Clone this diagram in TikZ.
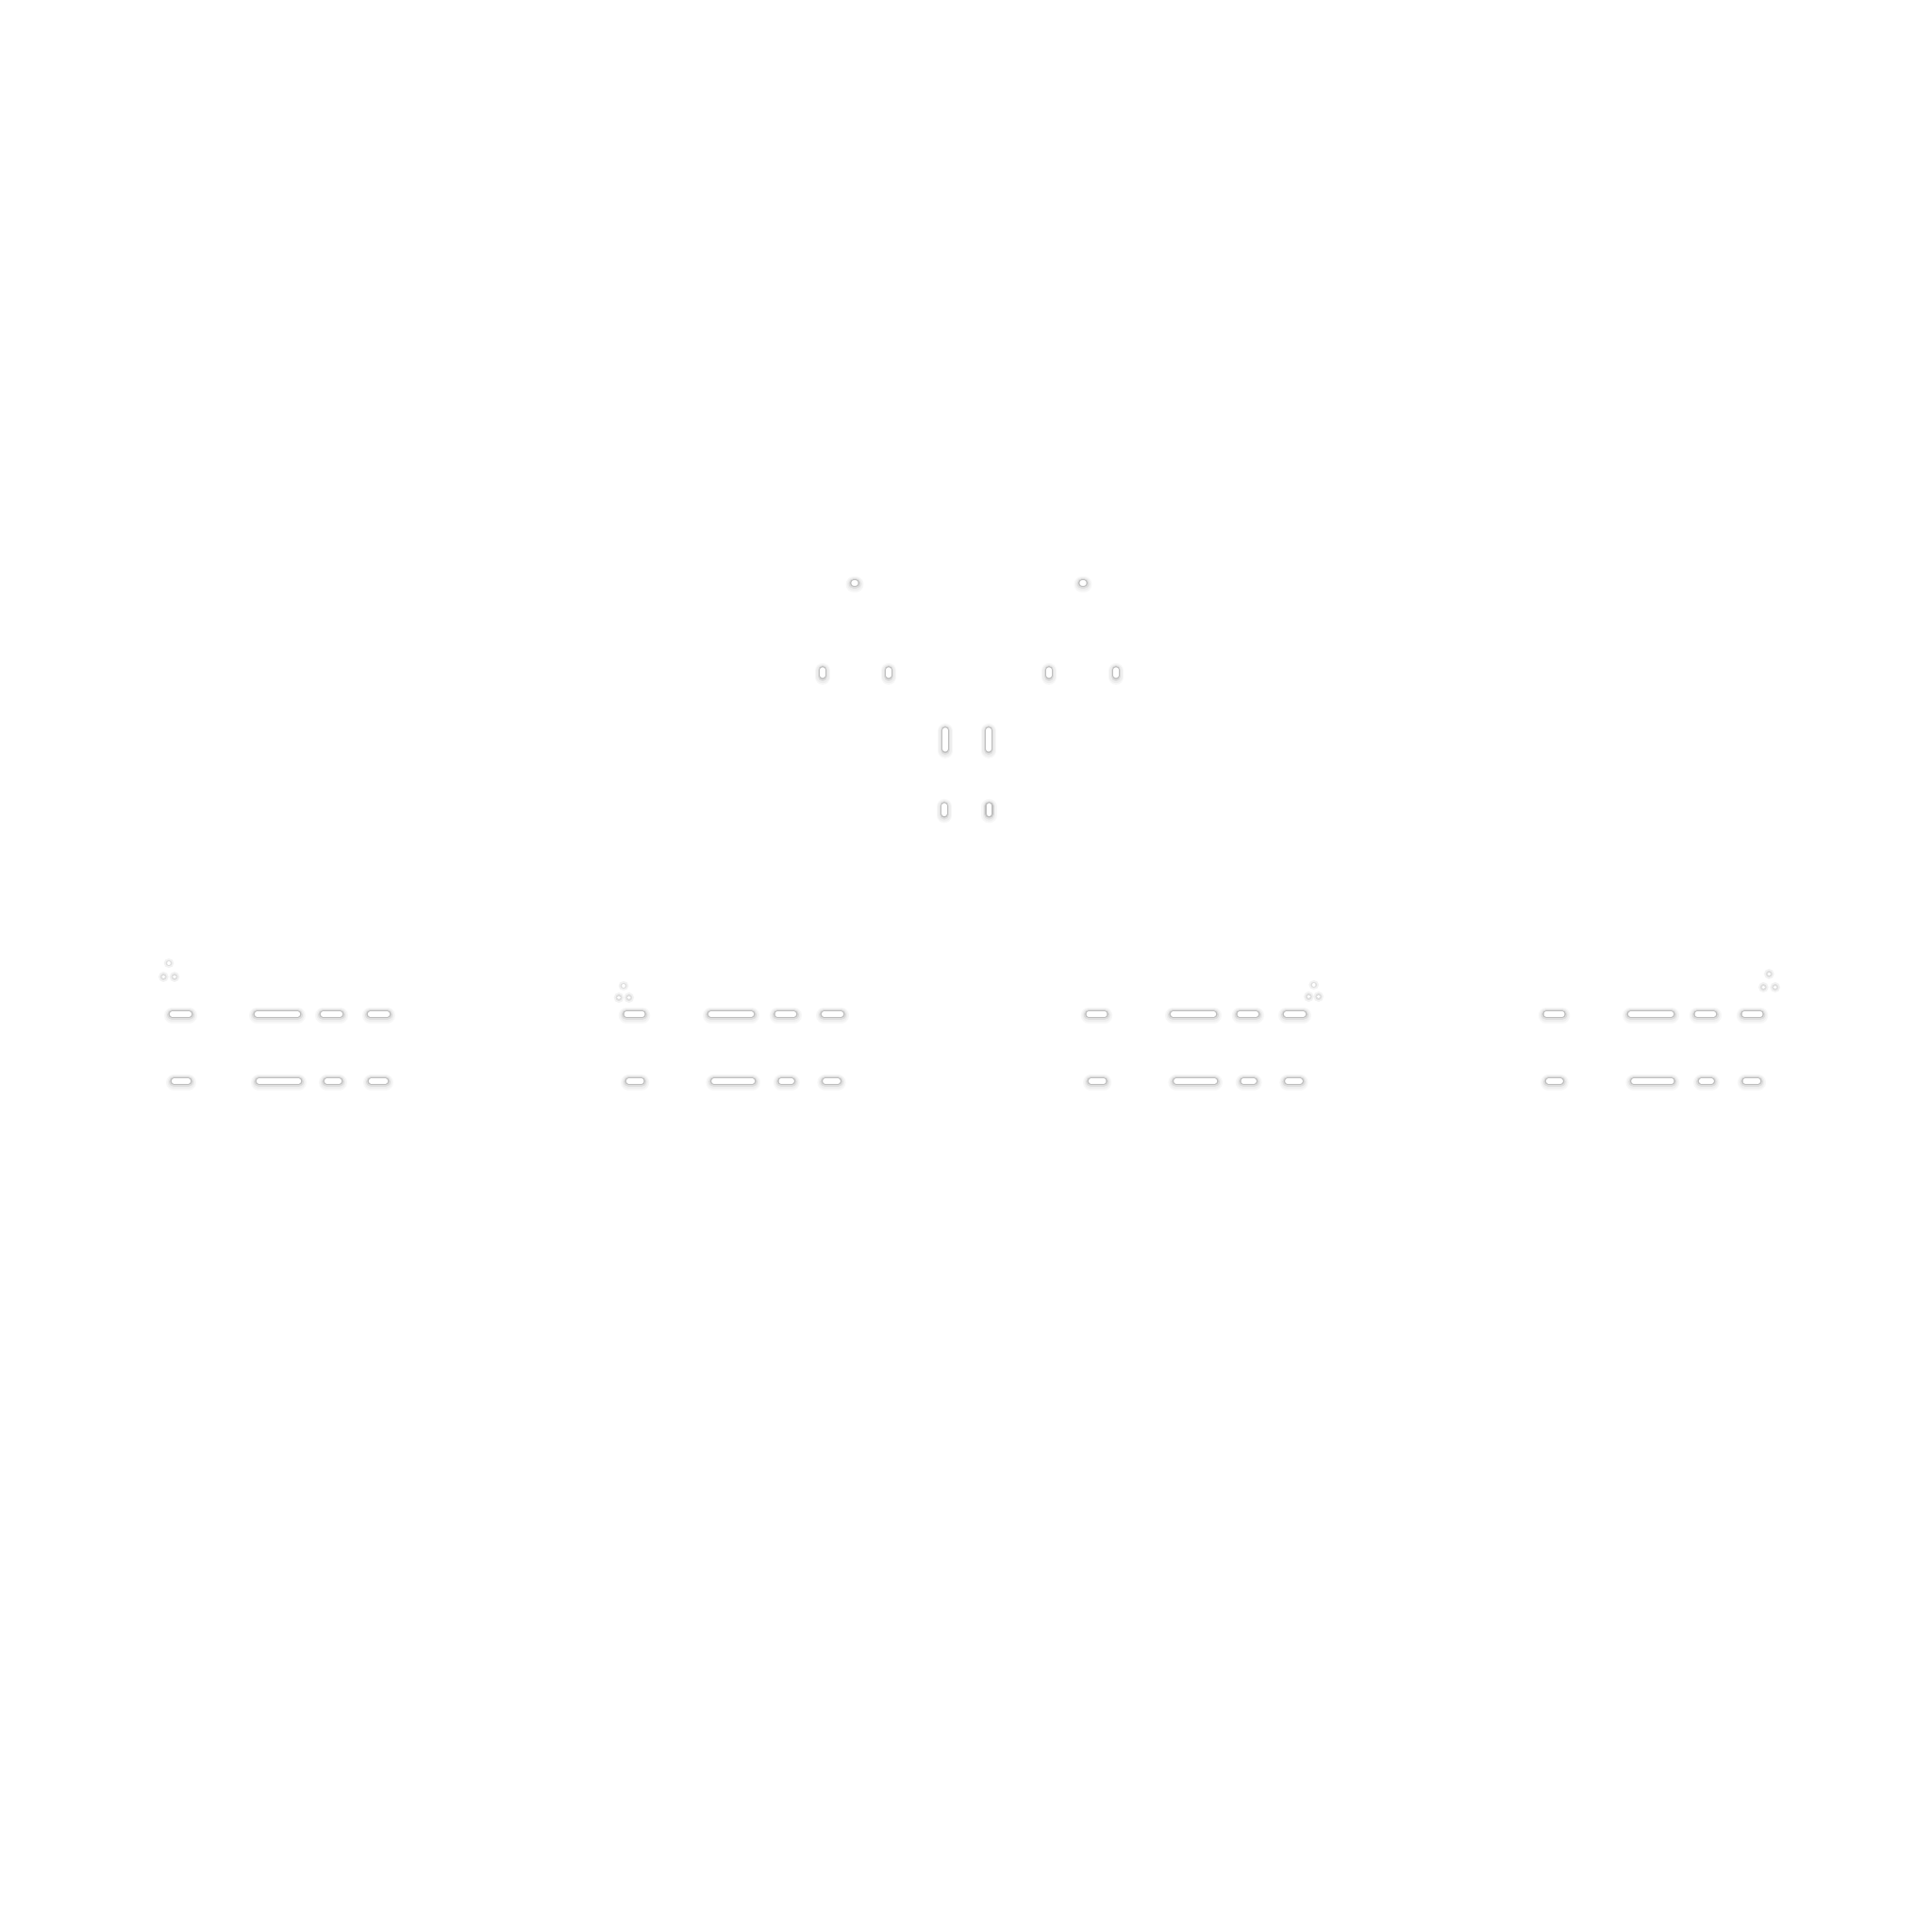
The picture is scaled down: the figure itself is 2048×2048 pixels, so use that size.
\documentclass[tikz,border=0pt]{standalone}
\usepackage{tikz}
\tikzset{
  glow haze/.style={draw=gray!6, line width=4.8pt, line cap=round, yshift=-0.4pt},
  glow outer/.style={draw=gray!13, line width=3.9pt, line cap=round, yshift=-0.35pt},
  glow mid/.style={draw=gray!27, line width=3.1pt, line cap=round, yshift=-0.2pt},
  glow inner/.style={draw=gray!50, line width=2.3pt, line cap=round, yshift=-0.05pt},
  glow core/.style={draw=white, line width=1.5pt, line cap=round},
  faint outer/.style={draw=gray!10, line width=3.0pt, line cap=round},
  faint inner/.style={draw=gray!26, line width=1.9pt, line cap=round},
  faint core/.style={draw=white, line width=1.0pt, line cap=round}
}
% one embossed mark from #1 to #2
\newcommand{\glowmark}[2]{%
  \draw[glow haze] #1 -- #2;
  \draw[glow outer] #1 -- #2;
  \draw[glow mid] #1 -- #2;
  \draw[glow inner] #1 -- #2;
  \draw[glow core] #1 -- #2;}
% horizontal mark: y, left end, right end
\newcommand{\glowrow}[3]{\glowmark{(#2+2.5,#1)}{(#3-2.5,#1)}}
% vertical mark: x, top end, bottom end
\newcommand{\glowcol}[3]{\glowmark{(#1,#2+2.5)}{(#1,#3-2.5)}}
% small faint dot
\newcommand{\faintdot}[2]{%
  \draw[faint outer] (#1-0.05,#2) -- (#1+0.05,#2);
  \draw[faint inner] (#1-0.05,#2) -- (#1+0.05,#2);
  \draw[faint core] (#1-0.05,#2) -- (#1+0.05,#2);}
\begin{document}
\begin{tikzpicture}[x={(0.01cm,0)}, y={(0,-0.01cm)}]
  \useasboundingbox[fill=white] (0,0) rectangle (2048,2048);

  % top part
  \glowmark{(905,618)}{(907,618)}
  \glowmark{(1147,618)}{(1149,618)}
  \glowcol{872}{707.5}{718.5}
  \glowcol{942}{707.5}{718.5}
  \glowcol{1112}{707.5}{718.5}
  \glowcol{1183}{707.5}{718.5}
  \glowcol{1002}{771.5}{796.5}
  \glowcol{1048}{771.5}{796.5}
  \glowcol{1001}{851.5}{865}
  \glowcol{1048.5}{851.5}{865}

  % first group
  \faintdot{179}{1021}
  \faintdot{173.3}{1035.5}
  \faintdot{185}{1035.5}
  \glowrow{1075}{180}{203}
  \glowrow{1075}{270}{318}
  \glowrow{1075}{340}{363}
  \glowrow{1075}{390}{413}
  \glowrow{1146}{182}{202}
  \glowrow{1146}{272}{319}
  \glowrow{1146}{344}{362}
  \glowrow{1146}{391}{411}

  % second group
  \faintdot{661}{1045}
  \faintdot{656}{1057.7}
  \faintdot{666.7}{1057.7}
  \glowrow{1075}{661.7}{683.3}
  \glowrow{1075}{751}{799}
  \glowrow{1075}{821.7}{844}
  \glowrow{1075}{871}{894}
  \glowrow{1146}{664}{682.3}
  \glowrow{1146}{754.3}{800}
  \glowrow{1146}{825.7}{841.7}
  \glowrow{1146}{872.3}{890.7}

  % third group
  \faintdot{1392.7}{1044}
  \faintdot{1387.3}{1056.7}
  \faintdot{1397.7}{1056.7}
  \glowrow{1075}{1151.7}{1173.3}
  \glowrow{1075}{1241}{1289}
  \glowrow{1075}{1311.7}{1334}
  \glowrow{1075}{1361}{1384}
  \glowrow{1146}{1154}{1172.3}
  \glowrow{1146}{1244.3}{1290}
  \glowrow{1146}{1315.7}{1331.7}
  \glowrow{1146}{1362.3}{1380.7}

  % fourth group
  \faintdot{1875.3}{1032.3}
  \faintdot{1869.3}{1046.7}
  \faintdot{1881.7}{1046.7}
  \glowrow{1075}{1636.7}{1658.3}
  \glowrow{1075}{1726}{1774}
  \glowrow{1075}{1796.7}{1819}
  \glowrow{1075}{1846.7}{1868.3}
  \glowrow{1146}{1639}{1656.7}
  \glowrow{1146}{1729.3}{1774.3}
  \glowrow{1146}{1801}{1816.7}
  \glowrow{1146}{1847.7}{1866}
\end{tikzpicture}
\end{document}
